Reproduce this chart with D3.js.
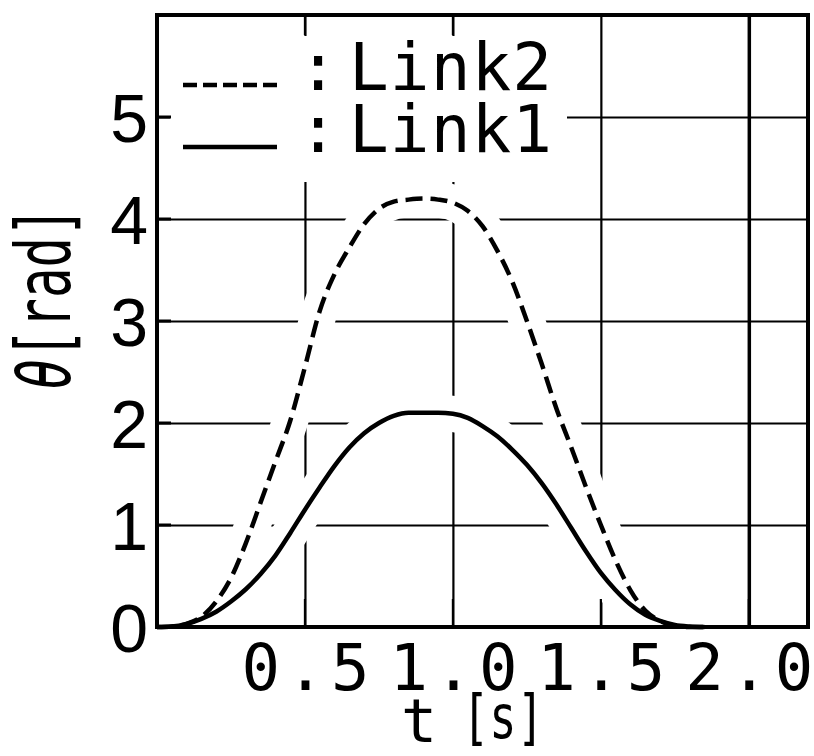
<!DOCTYPE html>
<html><head><meta charset="utf-8">
<script src="https://cdn.jsdelivr.net/npm/d3@7"></script>
<style>body{margin:0;background:#fff}svg{display:block}</style>
</head><body>
<svg id="c" width="814" height="756"></svg>
<script>
// ---- data ----
const tValues = [0,0.05,0.1,0.15,0.2,0.25,0.3,0.35,0.4,0.45,0.5,0.55,0.6,0.65,0.7,0.75,0.8,0.85,0.9,0.95,
                 1.0,1.05,1.1,1.15,1.2,1.25,1.3,1.35,1.4,1.45,1.5,1.55,1.6,1.65,1.7,1.75,1.8,1.85];
const link1 = [0,0.005,0.03,0.08,0.15,0.25,0.37,0.52,0.7,0.92,1.15,1.37,1.58,1.76,1.9,2.0,2.07,2.1,2.1,2.1,
               2.09,2.05,1.97,1.87,1.74,1.59,1.41,1.2,0.97,0.74,0.53,0.36,0.22,0.12,0.06,0.02,0.005,0];
const link2 = [0,0.005,0.03,0.1,0.25,0.48,0.82,1.22,1.62,2.02,2.55,3.1,3.46,3.72,3.95,4.1,4.17,4.19,4.2,4.19,
               4.16,4.08,3.93,3.69,3.39,3.0,2.58,2.14,1.76,1.37,1.0,0.65,0.36,0.16,0.06,0.01,0,0];
const yTicks = [0,1,2,3,4,5];
const xTicks = [0.5,1.0,1.5,2.0];
const xTickLabels = ["0.5","1.0","1.5","2.0"];
const seriesNames = ["Link2","Link1"];
const xTitle = ["t","[s]"];
const yTitle = "[rad]";

// ---- layout ----
const L=157, R=808, T=15, B=627;
const svg = d3.select("#c");
const x = d3.scaleLinear().domain([0,2.2]).range([L,R]);
const y = d3.scaleLinear().domain([0,6]).range([B,T]);
const mono = "DejaVu Sans Mono";

// grid lines via axes (no labels)
const gy = svg.append("g").attr("transform",`translate(${L},0)`)
  .call(d3.axisLeft(y).tickValues(yTicks.filter(d=>d>0)).tickSize(-(R-L)).tickFormat(""));
gy.select(".domain").remove();
gy.selectAll("line").attr("stroke","#000").attr("stroke-width",2.2);

const gx = svg.append("g").attr("transform",`translate(0,${B})`)
  .call(d3.axisBottom(x).tickValues(xTicks).tickSize(-(B-T)).tickFormat(""));
gx.select(".domain").remove();
gx.selectAll("line").attr("stroke","#000").attr("stroke-width",d=>d===2?3.5:2.2);

const line = d3.line().x((d,i)=>x(tValues[i])).y(d=>y(d)).curve(d3.curveMonotoneX);

// white halos that break the grid where curves cross
const halo = svg.append("g");
[link1,link2].forEach(s=>{
  halo.append("path").attr("d",line(s)).style("fill","none").style("stroke","#ffffff").style("stroke-width","36px");
});

// legend mask
svg.append("rect").attr("x",L+13).attr("y",36).attr("width",567-(L+13)).attr("height",146).style("fill","#ffffff");

// frame
svg.append("rect").attr("x",L).attr("y",T).attr("width",R-L).attr("height",B-T)
  .style("fill","none").style("stroke","#000").style("stroke-width","4px");

// tick stubs
svg.selectAll(".ys").data(yTicks.filter(d=>d>0)).join("line")
  .attr("x1",L).attr("x2",L+14).attr("y1",d=>y(d)).attr("y2",d=>y(d)).attr("stroke","#000").attr("stroke-width",3);
svg.selectAll(".xs").data(xTicks).join("line")
  .attr("x1",d=>x(d)).attr("x2",d=>x(d)).attr("y1",B).attr("y2",B-28).attr("stroke","#000").attr("stroke-width",2.2);
svg.selectAll(".xt").data(xTicks.slice(0,2)).join("line")
  .attr("x1",d=>x(d)).attr("x2",d=>x(d)).attr("y1",T).attr("y2",T+20).attr("stroke","#000").attr("stroke-width",2.2);

// tick labels via axes
const ly = svg.append("g").attr("transform",`translate(${L},0)`)
  .call(d3.axisLeft(y).tickValues(yTicks).tickSize(0).tickPadding(9).tickFormat(d3.format("d")));
ly.select(".domain").remove();
ly.selectAll("text").attr("font-family","Liberation Sans").attr("font-size",68)
  .attr("fill","#000").attr("dy","0.358em");

const lx = svg.append("g").attr("transform",`translate(0,${B})`)
  .call(d3.axisBottom(x).tickValues(xTicks).tickSize(0).tickFormat((d,i)=>xTickLabels[i]));
lx.select(".domain").remove();
lx.selectAll("text").attr("font-family",mono).attr("font-size",64).attr("fill","#000")
  .attr("y",63).attr("dy",0).attr("textLength",128).attr("lengthAdjust","spacing");

// curves
svg.append("path").attr("d",line(link1)).attr("fill","none").attr("stroke","#000").attr("stroke-width",4.5);
svg.append("path").attr("d",line(link2)).attr("fill","none").attr("stroke","#000").attr("stroke-width",4.5)
  .attr("stroke-dasharray","17,8");

// legend
const legY = [85,147];
svg.append("line").attr("x1",183).attr("x2",277).attr("y1",legY[0]).attr("y2",legY[0])
  .attr("stroke","#000").attr("stroke-width",4.5).attr("stroke-dasharray","14,6");
svg.append("line").attr("x1",183).attr("x2",277).attr("y1",legY[1]).attr("y2",legY[1])
  .attr("stroke","#000").attr("stroke-width",4.5);
seriesNames.forEach((n,i)=>{
  svg.append("text").attr("x",318).attr("y",legY[i]+5).attr("text-anchor","middle")
    .attr("font-family",mono).attr("font-size",66).text(":");
  svg.append("text").attr("x",349).attr("y",legY[i]+5).attr("font-family",mono).attr("font-size",66)
    .attr("textLength",203).attr("lengthAdjust","spacing").text(n);
});

// axis titles
svg.append("text").attr("x",419).attr("y",742).attr("text-anchor","middle")
  .attr("font-family",mono).attr("font-size",60).text(xTitle[0]);
svg.append("text").attr("x",462).attr("y",738).attr("font-family",mono).attr("font-size",60)
  .attr("textLength",82).attr("lengthAdjust","spacingAndGlyphs").text(xTitle[1]);

const yt = svg.append("text").attr("transform","translate(70,298) rotate(-90)").attr("text-anchor","middle")
  .attr("font-family",mono).attr("font-size",76).attr("textLength",183).attr("lengthAdjust","spacingAndGlyphs");
yt.append("tspan").attr("font-style","italic").text("θ");
yt.append("tspan").text(yTitle);
</script>
</body></html>
